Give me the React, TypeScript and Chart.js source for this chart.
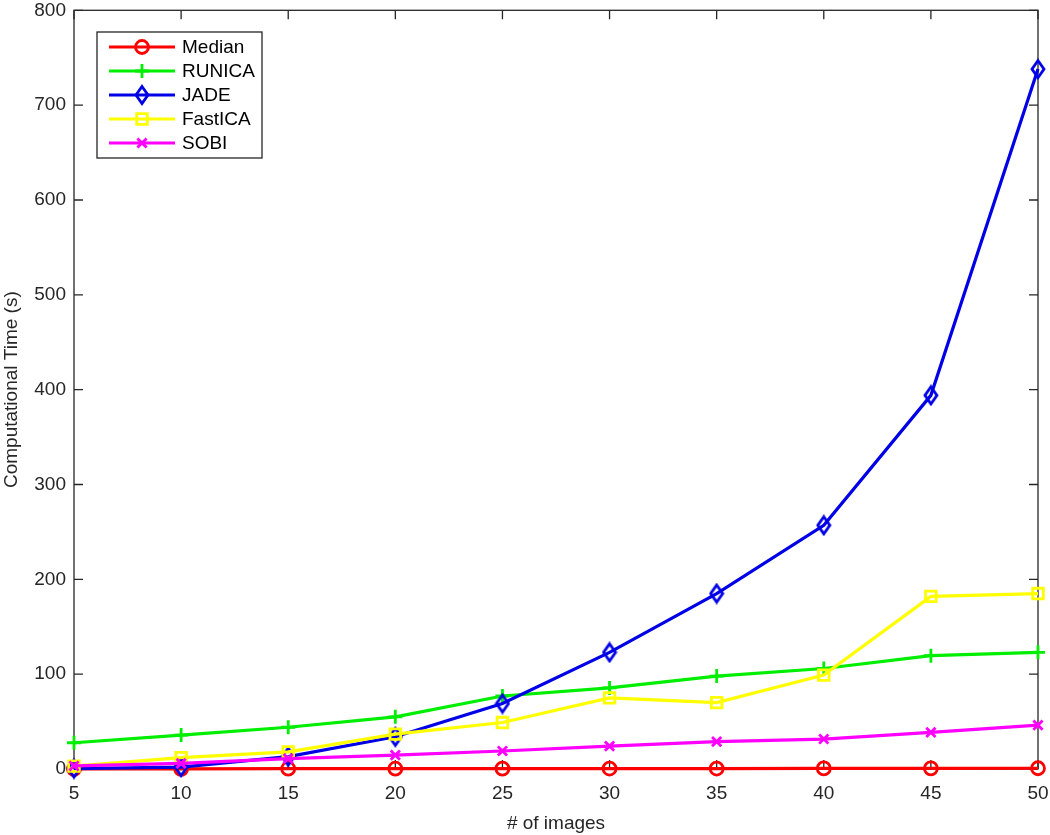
import React, { useEffect, useRef } from "react";
import { Chart, registerables } from "chart.js";
import { drawPoint } from "chart.js/helpers";

Chart.register(...registerables);

const imageCounts = [5, 10, 15, 20, 25, 30, 35, 40, 45, 50];
const medianTime = [0.1, 0.2, 0.3, 0.3, 0.4, 0.5, 0.5, 0.6, 0.7, 0.8];
const runicaTime = [27.7, 35.8, 44, 55, 77, 85.5, 98, 106, 119.5, 123];
const jadeTime = [0.5, 2, 13, 34, 69, 123, 185, 257, 394, 738];
const fastIcaTime = [3, 12, 18, 36.8, 49, 75, 70, 99, 182, 185];
const sobiTime = [3.2, 6, 11, 14.7, 19, 24.2, 28.8, 31.6, 38.6, 46.3];

const seriesLabels = ["Median", "RUNICA", "JADE", "FastICA", "SOBI"];
const xTitle = "# of images";
const yTitle = "Computational Time (s)";

const FONT = '"Liberation Sans", Arial, Helvetica, sans-serif';
const AXIS_COLOR = "#262626";

function makeDiamond(color: string): HTMLCanvasElement {
  const c = document.createElement("canvas");
  c.width = 16;
  c.height = 22;
  const g = c.getContext("2d")!;
  g.strokeStyle = color;
  g.lineWidth = 2.8;
  g.beginPath();
  g.moveTo(8, 2.5);
  g.lineTo(14, 11);
  g.lineTo(8, 19.5);
  g.lineTo(2, 11);
  g.closePath();
  g.stroke();
  return c;
}

const framePlugin = {
  id: "matlabFrame",
  beforeDatasetsDraw(chart: any) {
    const { ctx, chartArea: a } = chart;
    const xs = chart.scales.x;
    const ys = chart.scales.y;
    const L = 9;
    ctx.save();
    ctx.strokeStyle = AXIS_COLOR;
    ctx.lineWidth = 1.3;
    ctx.strokeRect(a.left, a.top, a.right - a.left, a.bottom - a.top);
    ctx.beginPath();
    xs.ticks.forEach((t: any) => {
      const px = xs.getPixelForValue(t.value);
      ctx.moveTo(px, a.bottom);
      ctx.lineTo(px, a.bottom - L);
      ctx.moveTo(px, a.top);
      ctx.lineTo(px, a.top + L);
    });
    ys.ticks.forEach((t: any) => {
      const py = ys.getPixelForValue(t.value);
      ctx.moveTo(a.left, py);
      ctx.lineTo(a.left + L, py);
      ctx.moveTo(a.right, py);
      ctx.lineTo(a.right - L, py);
    });
    ctx.stroke();
    ctx.restore();
  },
};

const legendPlugin = {
  id: "matlabLegend",
  afterDatasetsDraw(chart: any) {
    const { ctx } = chart;
    const bx = 97, by = 32, bw = 165, bh = 126;
    ctx.save();
    ctx.fillStyle = "#ffffff";
    ctx.fillRect(bx, by, bw, bh);
    ctx.strokeStyle = AXIS_COLOR;
    ctx.lineWidth = 1.3;
    ctx.strokeRect(bx, by, bw, bh);
    chart.data.datasets.forEach((ds: any, i: number) => {
      const cy = by + 15 + i * 24;
      ctx.strokeStyle = ds.borderColor;
      ctx.lineWidth = ds.borderWidth;
      ctx.beginPath();
      ctx.moveTo(109, cy);
      ctx.lineTo(175, cy);
      ctx.stroke();
      ctx.strokeStyle = ds.pointBorderColor;
      ctx.fillStyle = "rgba(0,0,0,0)";
      ctx.lineWidth = ds.pointBorderWidth;
      drawPoint(ctx, { pointStyle: ds.pointStyle, radius: ds.pointRadius, rotation: 0, borderWidth: ds.pointBorderWidth }, 142, cy);
      ctx.fillStyle = "#000000";
      ctx.font = `19px ${FONT}`;
      ctx.textBaseline = "middle";
      ctx.textAlign = "left";
      ctx.fillText(ds.label, 182, cy + 1);
    });
    ctx.restore();
  },
};

export default function App() {
  const canvasRef = useRef<HTMLCanvasElement | null>(null);

  useEffect(() => {
    if (!canvasRef.current) return;
    const colors = ["#ff0000", "#00ee00", "#0000e6", "#ffff00", "#ff00ff"];
    const values = [medianTime, runicaTime, jadeTime, fastIcaTime, sobiTime];
    const styles: any[] = ["circle", "cross", makeDiamond(colors[2]), "rect", "crossRot"];
    const radii = [6.5, 7, 7, 7.5, 6.5];
    const datasets = values.map((vals, i) => ({
      label: seriesLabels[i],
      data: imageCounts.map((x, j) => ({ x, y: vals[j] })),
      borderColor: colors[i],
      backgroundColor: colors[i],
      borderWidth: 3.2,
      pointStyle: styles[i],
      pointRadius: radii[i],
      pointBorderWidth: 2.8,
      pointBorderColor: colors[i],
      pointBackgroundColor: "rgba(0,0,0,0)",
      tension: 0,
      clip: false as any,
      order: 5 - i,
    }));

    const chart = new Chart(canvasRef.current, {
      type: "line",
      data: { datasets },
      options: {
        animation: false,
        responsive: false,
        layout: { padding: 0 },
        plugins: { legend: { display: false }, tooltip: { enabled: false } },
        scales: {
          x: {
            type: "linear",
            min: 5,
            max: 50,
            grid: { display: false, drawTicks: false },
            border: { display: false },
            ticks: {
              stepSize: 5,
              padding: 13,
              color: AXIS_COLOR,
              font: { size: 19, family: FONT },
              maxRotation: 0,
            },
            title: {
              display: true,
              text: xTitle,
              color: AXIS_COLOR,
              font: { size: 19, family: FONT },
              padding: { top: 0, bottom: 0 },
            },
            afterFit(scale: any) {
              scale.height = 66;
              scale.paddingRight = 12;
              scale.paddingLeft = 0;
            },
          },
          y: {
            type: "linear",
            min: 0,
            max: 800,
            grid: { display: false, drawTicks: false },
            border: { display: false },
            ticks: {
              stepSize: 100,
              padding: 8,
              color: AXIS_COLOR,
              font: { size: 19, family: FONT },
            },
            title: {
              display: true,
              text: yTitle,
              color: AXIS_COLOR,
              font: { size: 19, family: FONT },
              padding: { top: 0, bottom: 0 },
            },
            afterFit(scale: any) {
              scale.width = 74;
              scale.paddingTop = 9;
              scale.paddingBottom = 0;
            },
          },
        },
      },
      plugins: [framePlugin, legendPlugin],
    });
    return () => chart.destroy();
  }, []);

  return (
    <div style={{ position: "absolute", left: 0, top: 0, width: 1050, height: 835, background: "#fff" }}>
      <canvas ref={canvasRef} width={1050} height={835} style={{ display: "block" }} />
    </div>
  );
}
